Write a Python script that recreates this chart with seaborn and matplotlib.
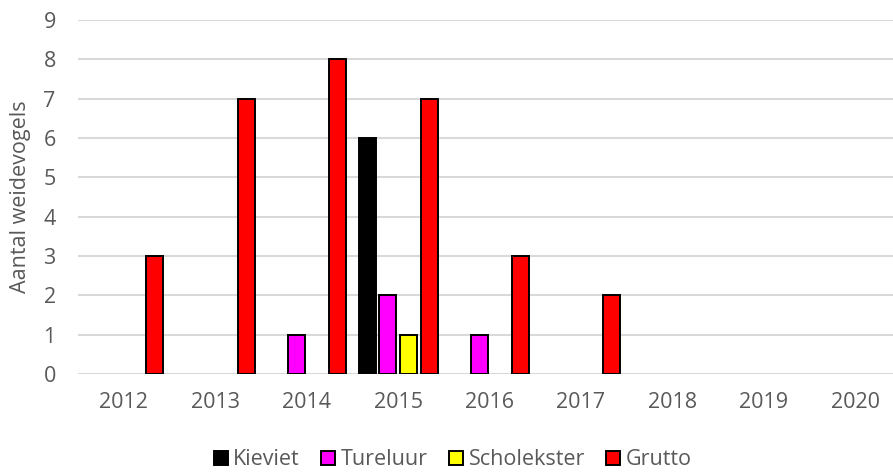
"""Weidevogels per jaar - grouped bar chart."""

import matplotlib
matplotlib.use("Agg")
import matplotlib.pyplot as plt
from matplotlib.patches import Patch
import pandas as pd
import seaborn as sns

years = ["2012", "2013", "2014", "2015", "2016", "2017", "2018", "2019", "2020"]
species = ["Kieviet", "Tureluur", "Scholekster", "Grutto"]
kieviet = [0, 0, 0, 6, 0, 0, 0, 0, 0]
tureluur = [0, 0, 1, 2, 1, 0, 0, 0, 0]
scholekster = [0, 0, 0, 1, 0, 0, 0, 0, 0]
grutto = [3, 7, 8, 7, 3, 2, 0, 0, 0]
colors = ["#000000", "#ff00ff", "#ffff00", "#ff0000"]

TXT = "#595959"
FS = 15.5

sns.set_theme(style="white")
plt.rcParams["font.family"] = ["Open Sans", "DejaVu Sans"]

rows = []
for name, vals in zip(species, [kieviet, tureluur, scholekster, grutto]):
    for yr, v in zip(years, vals):
        rows.append({"jaar": yr, "soort": name, "aantal": v})
df = pd.DataFrame(rows)

fig = plt.figure(figsize=(8.93, 4.73), dpi=100)
ax = fig.add_axes([78 / 893, 1 - 374 / 473, 823 / 893, 354 / 473])

sns.barplot(data=df, x="jaar", y="aantal", hue="soort", order=years, hue_order=species,
            palette=colors, width=0.905, gap=0.18, edgecolor="black", linewidth=1.4,
            saturation=1, ax=ax, legend=False)

# Excel draws nothing for zero values
for p in ax.patches:
    if p.get_height() == 0:
        p.set_visible(False)

ax.set_ylim(0, 9)
ax.set_xlim(-0.5, len(years) - 0.5)
ax.set_yticks(range(0, 10))
ax.yaxis.grid(True, color="#d9d9d9", linewidth=1.5)
ax.set_axisbelow(True)
for s in ax.spines.values():
    s.set_visible(False)
ax.tick_params(axis="both", length=0, labelsize=FS, labelcolor=TXT)
ax.tick_params(axis="y", pad=16)
ax.tick_params(axis="x", pad=13)
ax.set_xlabel("")
ax.set_ylabel("Aantal weidevogels", fontsize=FS, color=TXT)
ax.yaxis.set_label_coords(-0.057, 0.5)

handles = [Patch(facecolor=c, edgecolor="black", linewidth=1.4) for c in colors]
leg = fig.legend(handles, species, loc="center", bbox_to_anchor=(0.507, 0.028), ncol=4,
                 frameon=False, fontsize=FS, handlelength=0.65, handleheight=0.65,
                 handletextpad=0.25, columnspacing=1.0)
for t in leg.get_texts():
    t.set_color(TXT)

fig.savefig("out.png", dpi=100)
